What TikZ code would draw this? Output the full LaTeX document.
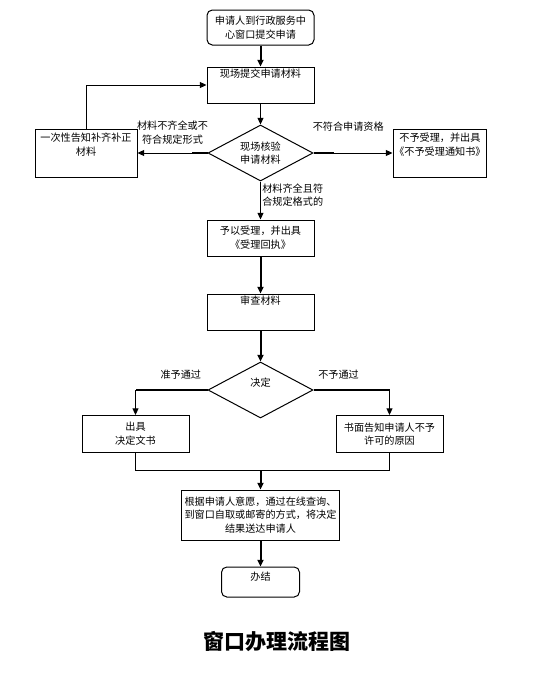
\documentclass[tikz,border=0pt]{standalone}
\usepackage{fontspec}
\setmainfont{Noto Sans CJK SC}
\usepackage{tikz}
\usetikzlibrary{positioning,arrows.meta,shapes.geometric}

\begin{document}
\begin{tikzpicture}[
    x=0.75pt, y=-0.75pt,
    every node/.style={font=\fontsize{7.6pt}{10.3pt}\selectfont},
    box/.style={rectangle, draw, line width=0.75pt, align=center, inner xsep=1pt, minimum width=80.25pt, minimum height=27pt},
    term/.style={box, rounded corners=4pt},
    upbox/.style 2 args={box, inner ysep=2pt, text height=#1, text depth=#2},
    dec/.style={diamond, draw, line width=0.75pt, aspect=1.875, minimum width=78.75pt, minimum height=42pt, inner sep=0pt, align=center},
    arr/.style={-{Triangle[length=5pt, width=4.5pt]}, line width=1.5pt},
    arrthin/.style={-{Triangle[length=5pt, width=4.5pt]}, line width=0.75pt},
    heavy/.style={line width=1.5pt},
    lbl/.style={inner sep=1pt, align=center}
]
    \useasboundingbox (0,0) rectangle (550,686);

    \node[term, minimum height=26.25pt] (start) at (260.5,27.5) {申请人到行政服务中\\心窗口提交申请};
    \node[upbox={6.1pt}{16.9pt}, below=15.75pt of start] (submit) {现场提交申请材料};
    \node[dec, below=15.75pt of submit] (check) {现场核验\\申请材料};
    \node[upbox={17.9pt}{14.1pt}, minimum width=76.5pt, minimum height=36pt, left=52.5pt of check] (supp) {一次性告知补齐补正\\材料};
    \node[upbox={17.9pt}{14.1pt}, minimum width=69pt, minimum height=36pt, right=59.25pt of check] (reject) {不予受理，并出具\\《不予受理通知书》};
    \node[box, below=28.5pt of check] (accept) {予以受理，并出具\\《受理回执》};
    \node[upbox={6.1pt}{16.9pt}, below=27.75pt of accept] (review) {审查材料};
    \node[dec, text height=6.7pt, text depth=11.4pt, below=23.25pt of review] (decide) {决定};
    \node[box, minimum height=27.75pt, below left=18.75pt and 13.5pt of decide.west] (issue) {出具\\决定文书};
    \node[box, minimum height=27.75pt, below right=18.75pt and 16.5pt of decide.east] (notify) {书面告知申请人不予\\许可的原因};
    \node[box, minimum width=118.5pt, minimum height=37.5pt, below=53.25pt of decide] (deliver) {根据申请人意愿，通过在线查询、\\到窗口自取或邮寄的方式，将决定\\结果送达申请人};
    \node[term, inner ysep=2pt, text height=8.35pt, text depth=10.15pt, minimum width=58.5pt, minimum height=22.5pt, below=19.5pt of deliver] (done) {办结};
    \node[font=\bfseries\fontsize{15.75pt}{18pt}\selectfont] (title) at (277,642) {窗口办理流程图};

    \coordinate (lturn) at (decide.west -| issue.north);
    \coordinate (rturn) at (decide.east -| notify.north);
    \coordinate[above=14.25pt of deliver.north] (join);

    \draw[arr] (start) -- (submit);
    \draw[arrthin] (submit) -- (check);
    \draw[heavy] (check.west) -- ++(-16,0);
    \draw[arrthin] (check) -- (supp) node[lbl, above=5pt, midway] {材料不齐全或不\\符合规定形式};
    \draw[heavy] (check.east) -- ++(20,0);
    \draw[arrthin] (check) -- (reject) node[lbl, above=15pt, pos=0.44] {不符合申请资格};
    \draw[arrthin] (supp) |- (submit);
    \draw[arrthin] (check) -- (accept) node[lbl, right, pos=0.36, align=left] {材料齐全且符\\合规定格式的};
    \draw[arr] (accept) -- (review);
    \draw[arr] (review) -- (decide);
    \draw[heavy] (decide.west) -- (lturn) node[lbl, above=6pt, pos=0.37] {准予通过};
    \draw[arrthin] (lturn) -- (issue);
    \draw[heavy] (decide.east) -- (rturn) node[lbl, above=6pt, pos=0.33] {不予通过};
    \draw[arrthin] (rturn) -- (notify);
    \draw[line width=0.75pt] (issue) |- (join) -| (notify);
    \draw[arr] (join) -- (deliver);
    \draw[arr] (deliver) -- (done);
\end{tikzpicture}
\end{document}
